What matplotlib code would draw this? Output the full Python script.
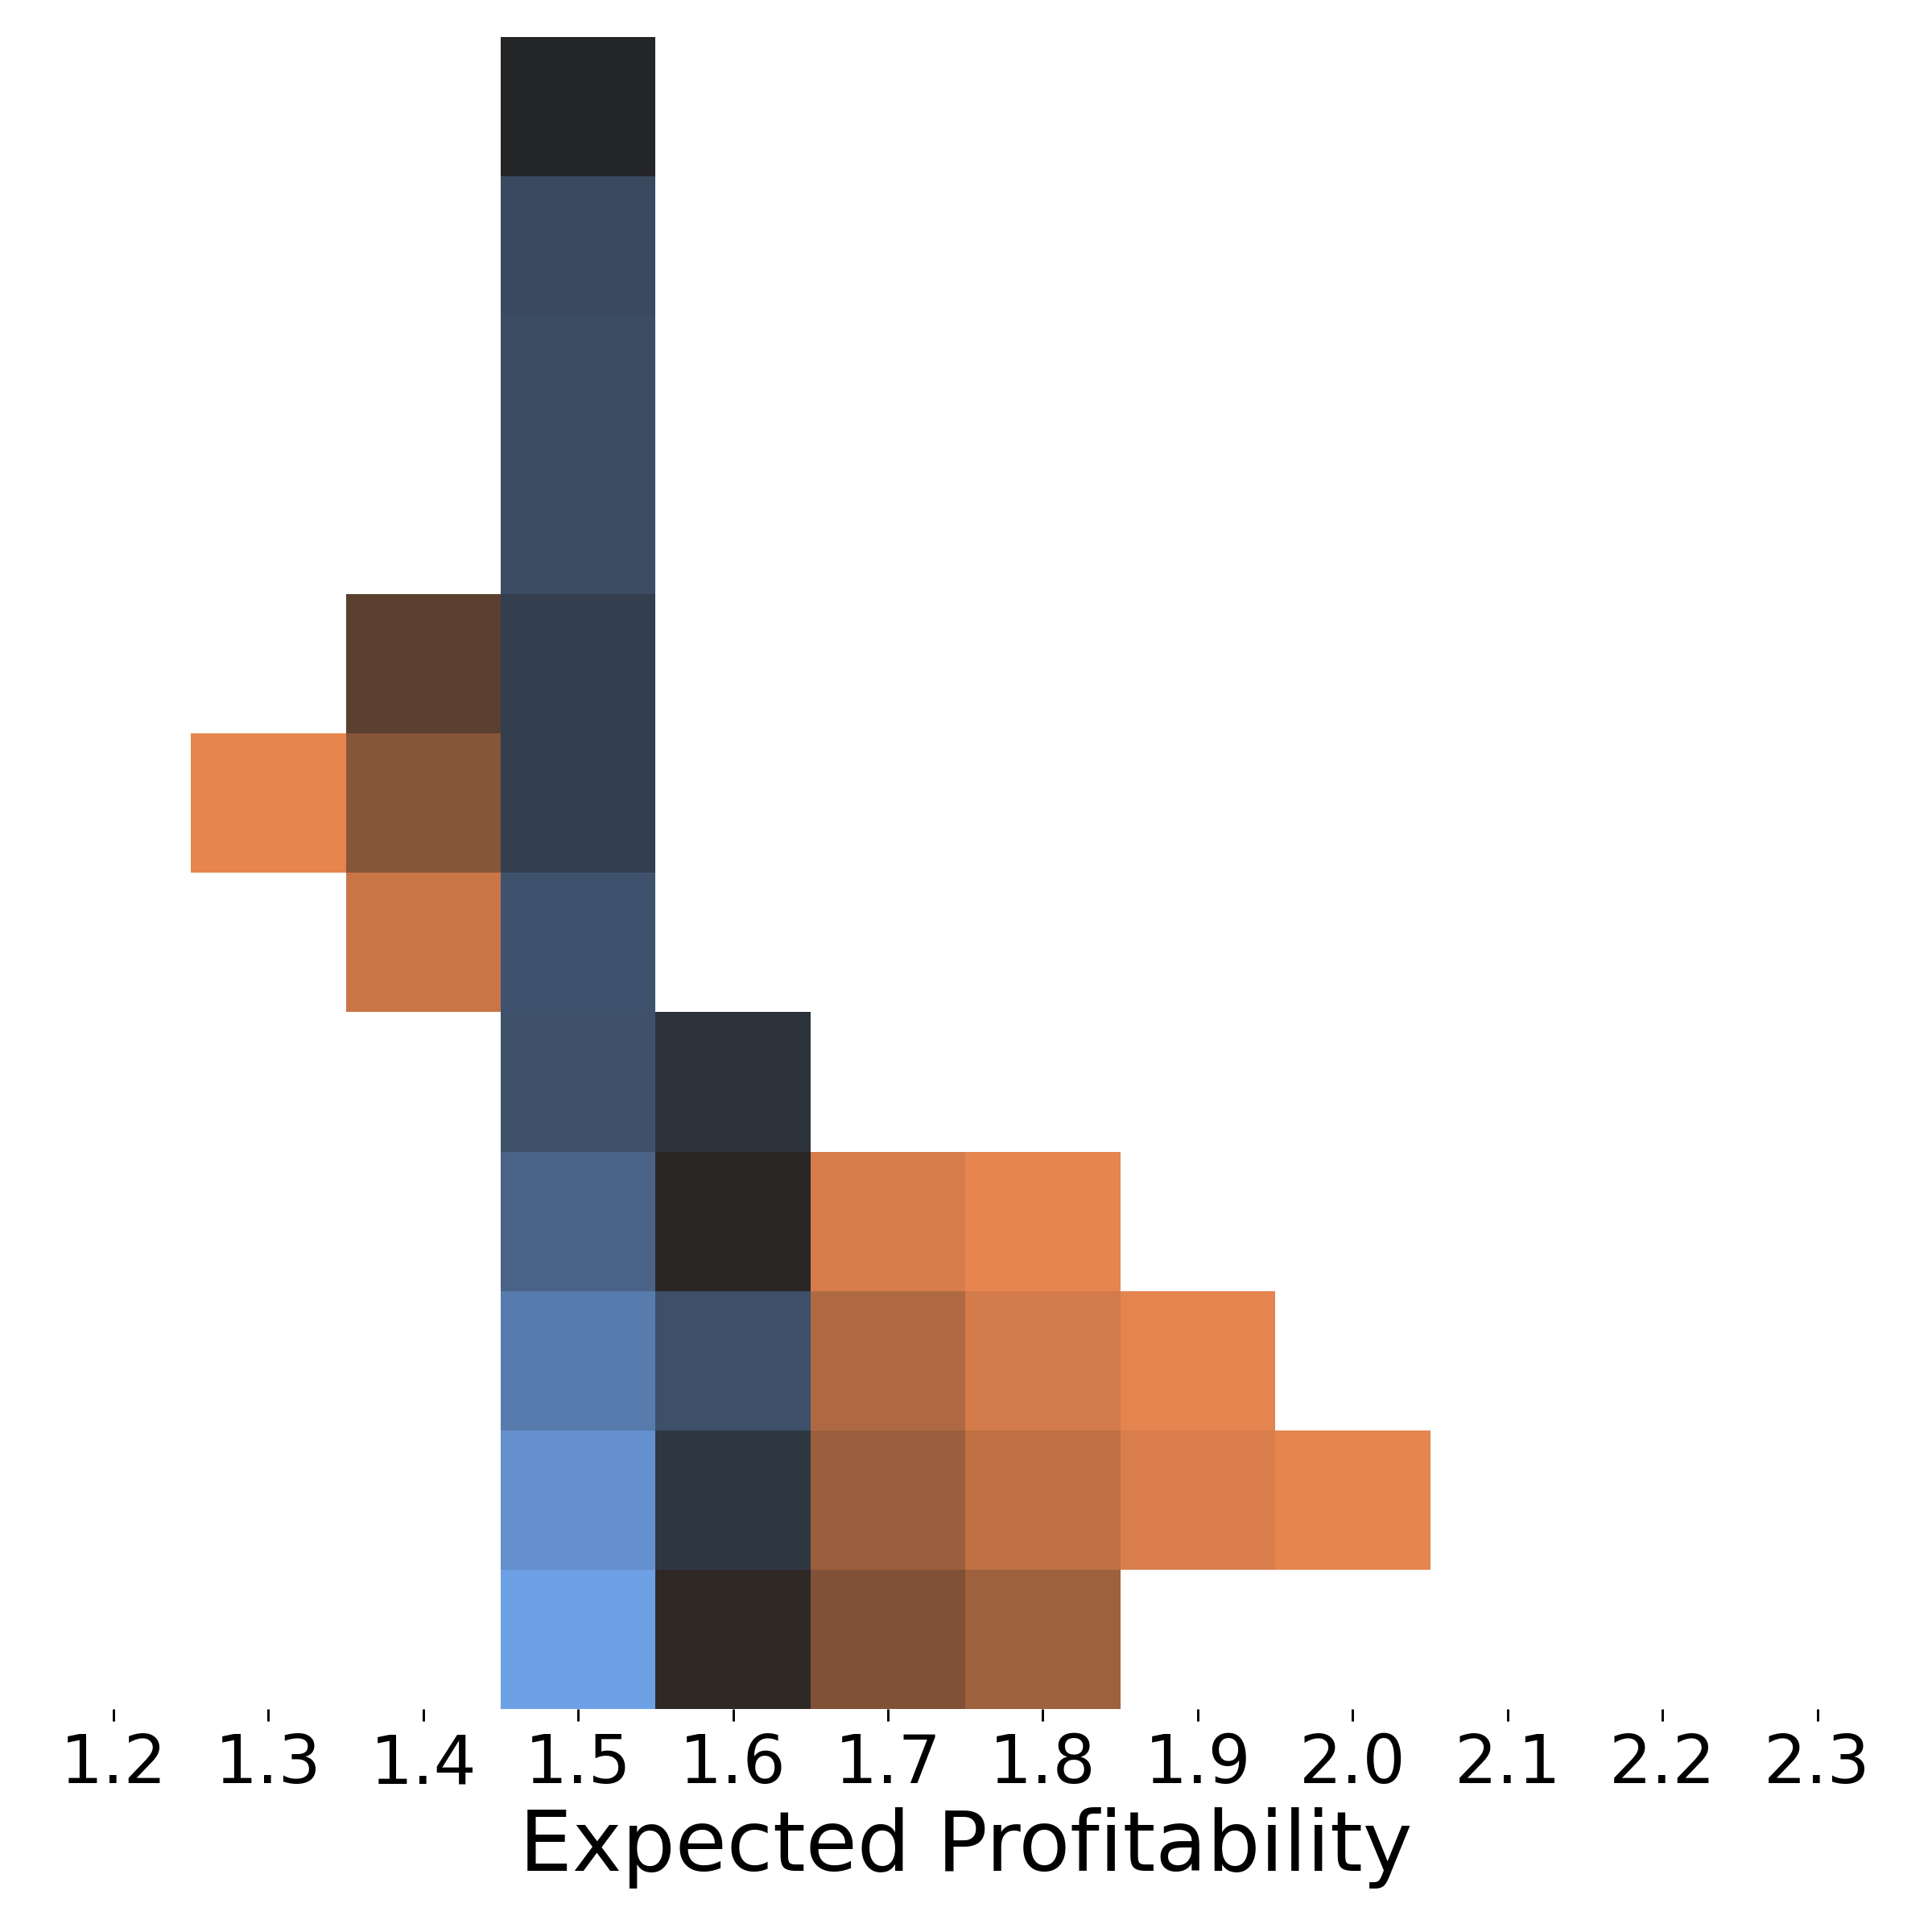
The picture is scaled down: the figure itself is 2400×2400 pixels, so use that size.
import numpy as np
import matplotlib
matplotlib.use("Agg")
import matplotlib.pyplot as plt
from matplotlib.colors import LinearSegmentedColormap, Normalize
from matplotlib.ticker import MultipleLocator

n = np.nan

# bin centres along x, and the 12 unlabeled rows (top row first)
x_centers = [1.3, 1.4, 1.5, 1.6, 1.7, 1.8, 1.9, 2.0]
rows = list(range(12))

# shading strength per cell (0 = dark, 1 = full hue colour)
blue_vals = [
    [n, n, 0.03, n, n, n, n, n],
    [n, n, 0.31, n, n, n, n, n],
    [n, n, 0.33, n, n, n, n, n],
    [n, n, 0.33, n, n, n, n, n],
    [n, n, 0.23, n, n, n, n, n],
    [n, n, 0.23, n, n, n, n, n],
    [n, n, 0.38, n, n, n, n, n],
    [n, n, 0.37, 0.14, n, n, n, n],
    [n, n, 0.51, n, n, n, n, n],
    [n, n, 0.71, 0.36, n, n, n, n],
    [n, n, 0.87, 0.17, n, n, n, n],
    [n, n, 1.00, n, n, n, n, n],
]
orange_vals = [
    [n, n, n, n, n, n, n, n],
    [n, n, n, n, n, n, n, n],
    [n, n, n, n, n, n, n, n],
    [n, n, n, n, n, n, n, n],
    [n, 0.29, n, n, n, n, n, n],
    [1.00, 0.515, n, n, n, n, n, n],
    [n, 0.85, n, n, n, n, n, n],
    [n, n, n, n, n, n, n, n],
    [n, n, n, 0.04, 0.92, 1.00, n, n],
    [n, n, n, n, 0.72, 0.90, 0.99, n],
    [n, n, n, n, 0.62, 0.80, 0.93, 1.00],
    [n, n, n, 0.07, 0.48, 0.63, n, n],
]

blue_cmap = LinearSegmentedColormap.from_list("dark_blue", ["#222222", "#6ea0e6"])
orange_cmap = LinearSegmentedColormap.from_list("dark_orange", ["#222222", "#e6854e"])
norm = Normalize(0, 1)

fig = plt.figure(figsize=(8, 8), dpi=300)
ax = fig.add_axes([0.0587, 0.1154, 0.882, 0.8656])

ax.pcolormesh(x_centers, rows, np.ma.masked_invalid(np.array(blue_vals)),
              cmap=blue_cmap, norm=norm, shading="nearest")
ax.pcolormesh(x_centers, rows, np.ma.masked_invalid(np.array(orange_vals)),
              cmap=orange_cmap, norm=norm, shading="nearest")

ax.set_xlim(1.2, 2.3)
ax.set_ylim(11.5, -0.5)
ax.xaxis.set_major_locator(MultipleLocator(0.1))
ax.tick_params(axis="x", labelsize=20, length=3.6, width=0.7, pad=3.2)
ax.set_yticks([])
for s in ax.spines.values():
    s.set_visible(False)

ax.set_xlabel("Expected Profitability", fontsize=25, labelpad=3)

fig.savefig("out.png", dpi=300, facecolor="white")
